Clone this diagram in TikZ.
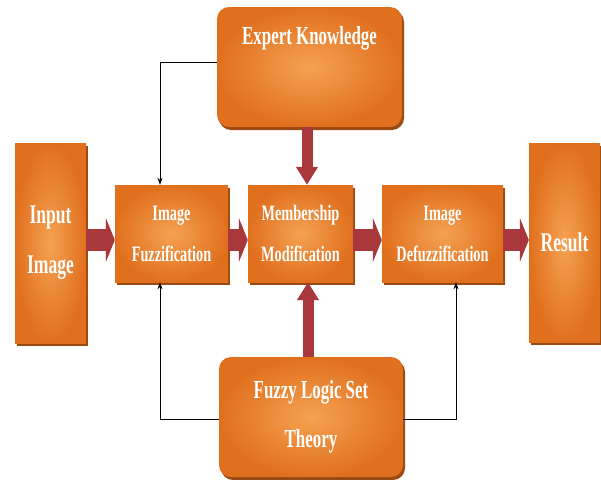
\documentclass[tikz,border=0pt]{standalone}
\usepackage{fontspec}
\newfontfamily\cond[FakeStretch=0.65]{Liberation Serif}
\usetikzlibrary{arrows.meta,shadows,calc}
\definecolor{orOut}{HTML}{E0701E}
\definecolor{orIn}{HTML}{F5A252}
\definecolor{shad}{HTML}{9A4A12}
\definecolor{arr}{HTML}{A8383C}
\begin{document}
\begin{tikzpicture}[x=1pt,y=-1pt,
  box/.style={draw=none, shading=radial, inner color=orIn, outer color=orOut,
    drop shadow={shadow xshift=2pt,shadow yshift=-3pt,fill=shad,opacity=1},
    text=white, align=center, inner sep=0pt,
    font=\cond\bfseries\fontsize{22}{41}\selectfont},
  bigbox/.style={box, font=\cond\bfseries\fontsize{27}{50}\selectfont},
  rbox/.style={box, rounded corners=12pt, font=\cond\bfseries\fontsize{26}{49}\selectfont},
  lbl/.style={text=white, inner sep=0pt, font=\cond\bfseries\fontsize{26}{49}\selectfont},
  harrow/.style={draw=arr, line width=22pt, -{Triangle[width=44pt,length=9pt]}},
  varrow/.style={draw=arr, line width=11pt, -{Triangle[width=21pt,length=18pt]}},
  thinarrow/.style={draw=black, line width=0.8pt, -{Stealth[length=7pt,width=5pt]}}
]
\useasboundingbox (0,0) rectangle (601,479);

\node[bigbox, minimum width=71pt, minimum height=200pt] (inp) at (50.5,243) {Input\\Image};
\node[box, minimum width=113pt, minimum height=97pt] (fz) at (171.5,233.5) {Image\\Fuzzification};
\node[box, minimum width=105pt, minimum height=97pt] (mm) at (300.5,233.5) {Membership\\Modification};
\node[box, minimum width=121pt, minimum height=97pt] (dz) at (442.5,233.5) {Image\\Defuzzification};
\node[bigbox, minimum width=71pt, minimum height=199pt] (res) at (564.5,242.5) {Result};
\node[rbox, minimum width=185pt, minimum height=120pt] (ek) at (309.5,67) {};
\node[lbl] (ekt) at (309.5,38) {Expert Knowledge};
\node[rbox, minimum width=184pt, minimum height=120pt] (fl) at (311,417) {Fuzzy Logic Set\\Theory};

\coordinate (ay) at (0,240);
\coordinate (ax1) at (307,0);
\coordinate (ax2) at (308,0);
\coordinate (ly1) at (0,62);
\coordinate (ly2) at (0,419);
\coordinate (lx1) at (160,0);
\coordinate (lx2) at (456,0);

\draw[harrow] (inp.east |- ay) -- (fz.west |- ay);
\draw[harrow] (fz.east |- ay) -- (mm.west |- ay);
\draw[harrow] (mm.east |- ay) -- (dz.west |- ay);
\draw[harrow] (dz.east |- ay) -- (res.west |- ay);

\draw[varrow] (ek.south -| ax1) -- (mm.north -| ax1);
\draw[varrow] (fl.north -| ax2) -- (mm.south -| ax2);

\draw[thinarrow] (ek.west |- ly1) -| (fz.north -| lx1);
\draw[thinarrow] (fl.west |- ly2) -| (fz.south -| lx1);
\draw[thinarrow] (fl.east |- ly2) -| (dz.south -| lx2);
\end{tikzpicture}
\end{document}
